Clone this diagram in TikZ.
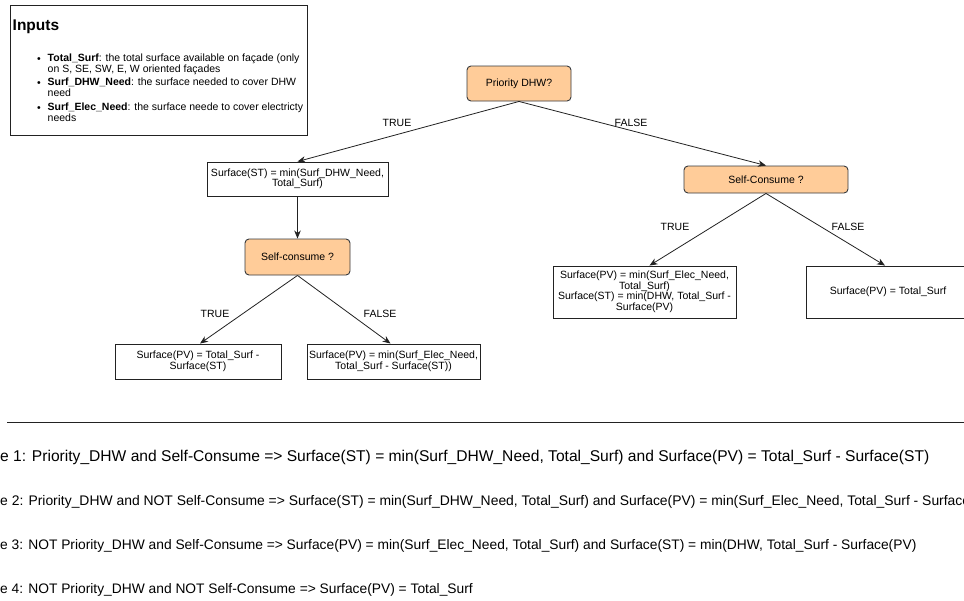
\documentclass[tikz,border=0pt]{standalone}
\usepackage{fontspec}
\setmainfont{Liberation Sans}
\usetikzlibrary{arrows.meta}
\definecolor{orfill}{HTML}{FFCC99}
\definecolor{orline}{HTML}{36393D}
\definecolor{ln}{HTML}{222222}
\newcommand{\fs}[2]{\fontsize{#1}{#2}\selectfont}
\tikzset{
  box/.style={draw=ln, line width=0.9pt, fill=white, inner sep=0pt, align=center, font=\fs{10.5}{10.5}},
  decision/.style={draw=orline, line width=0.9pt, fill=orfill, rounded corners=4pt, inner sep=0pt, align=center, font=\fs{10.5}{12}},
  conn/.style={draw=ln, line width=0.8pt, -{Stealth[length=8pt,width=6.5pt,inset=2.5pt]}},
  lbl/.style={inner sep=0pt, font=\fs{10.5}{12}},
  casetxt/.style={inner sep=0pt, anchor=base west},
  bul/.style={inner sep=0pt, anchor=base west, align=left, font=\fs{10.5}{11.5}},
}
\begin{document}
\begin{tikzpicture}[x=1pt,y=-1pt]
\useasboundingbox (0,0) rectangle (964,600);
\clip (0,0) rectangle (964,600);
\fill[white] (0,0) rectangle (964,600);

% Inputs box
\node[draw=ln, line width=0.9pt, minimum width=297pt, minimum height=130pt, inner sep=0pt, anchor=north west] (inbox) at (10,5) {};
\node[inner sep=0pt, anchor=base west, font=\fs{15.5}{16}\bfseries] (intitle) at (12.5,30.5) {Inputs};
\node[bul] (b1) at (37,62) {•};
\node[bul, anchor=north west] (t1) at (47.5,53.5) {\textbf{Total\_Surf}: the total surface available on façade (only\\on S, SE, SW, E, W oriented façades};
\node[bul] (b2) at (37,86) {•};
\node[bul, anchor=north west] (t2) at (47.5,77.5) {\textbf{Surf\_DHW\_Need}: the surface needed to cover DHW\\need};
\node[bul] (b3) at (37,111) {•};
\node[bul, anchor=north west] (t3) at (47.5,102.5) {\textbf{Surf\_Elec\_Need}: the surface neede to cover electricty\\needs};

% Decision tree
\node[decision, minimum width=104pt, minimum height=35pt] (pdhw) at (519,83.5) {Priority DHW?};
\node[box, minimum width=181pt, minimum height=34pt] (st) at (297.5,179) {Surface(ST) = min(Surf\_DHW\_Need,\\Total\_Surf)};
\node[decision, minimum width=105pt, minimum height=36pt] (sc1) at (297.5,257) {Self-consume ?};
\node[box, minimum width=166pt, minimum height=35pt] (pv1) at (198,361.5) {Surface(PV) = Total\_Surf -\\Surface(ST)};
\node[box, minimum width=173pt, minimum height=35pt] (pv2) at (393.5,361.5) {Surface(PV) = min(Surf\_Elec\_Need,\\Total\_Surf - Surface(ST))};
\node[decision, minimum width=164pt, minimum height=27pt] (sc2) at (766,179.5) {Self-Consume ?};
\node[box, minimum width=183pt, minimum height=52pt] (tb) at (644.5,292) {Surface(PV) = min(Surf\_Elec\_Need,\\Total\_Surf)\\Surface(ST) = min(DHW, Total\_Surf -\\Surface(PV)};
\node[box, minimum width=164pt, minimum height=52pt] (fb) at (888,292) {Surface(PV) = Total\_Surf};

\draw[conn] (pdhw.south) -- (st.north);
\draw[conn] (pdhw.south) -- (sc2.north);
\draw[conn] (st.south) -- (sc1.north);
\draw[conn] (sc1.south) -- ([xshift=2pt]pv1.north);
\draw[conn] (sc1.south) -- ([xshift=-3pt]pv2.north);
\draw[conn] (sc2.south) -- ([xshift=5pt]tb.north);
\draw[conn] (sc2.south) -- ([xshift=-3pt]fb.north);

\node[lbl] (l1) at (397,123) {TRUE};
\node[lbl] (l2) at (631,123) {FALSE};
\node[lbl] (l3) at (215,314) {TRUE};
\node[lbl] (l4) at (380,314) {FALSE};
\node[lbl] (l5) at (675,227) {TRUE};
\node[lbl] (l6) at (848,227) {FALSE};

% Separator
\coordinate (sepL) at (7,422);
\coordinate (sepR) at (964,422);
\draw[ln, line width=0.9pt] (sepL) -- (sepR);

% Cases
\node[casetxt, font=\fs{15.6}{16}] (c1) at (0,461.5) {\llap{Cas}e 1: Priority\_DHW and Self-Consume => Surface(ST) = min(Surf\_DHW\_Need, Total\_Surf) and Surface(PV) = Total\_Surf - Surface(ST)};
\node[casetxt, font=\fs{13.9}{14}] (c2) at (0,505.5) {\llap{Cas}e 2: Priority\_DHW and NOT Self-Consume => Surface(ST) = min(Surf\_DHW\_Need, Total\_Surf) and Surface(PV) = min(Surf\_Elec\_Need, Total\_Surf - Surface(ST))};
\node[casetxt, font=\fs{13.8}{14}] (c3) at (0,549.5) {\llap{Cas}e 3: NOT Priority\_DHW and Self-Consume => Surface(PV) = min(Surf\_Elec\_Need, Total\_Surf) and Surface(ST) = min(DHW, Total\_Surf - Surface(PV)};
\node[casetxt, font=\fs{13.8}{14}] (c4) at (0,593.5) {\llap{Cas}e 4: NOT Priority\_DHW and NOT Self-Consume => Surface(PV) = Total\_Surf};
\end{tikzpicture}
\end{document}
